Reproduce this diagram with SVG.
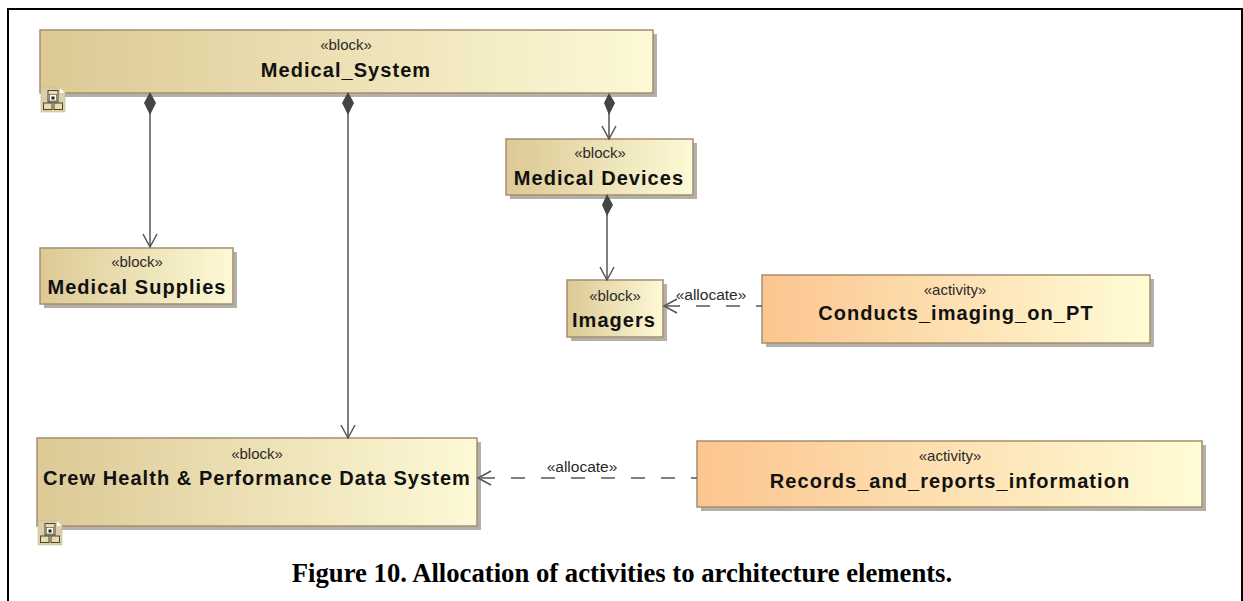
<svg xmlns="http://www.w3.org/2000/svg" width="1243" height="601" viewBox="0 0 1243 601">
<style>
.box{stroke:#a58e6e;stroke-width:1.5}
.sh{fill:#b3b0aa}
.st{font-family:"Liberation Sans",Arial,sans-serif;font-size:15px;fill:#2a2a2a;text-anchor:middle}
.nm{font-family:"Liberation Sans",Arial,sans-serif;font-size:20px;font-weight:bold;fill:#111;text-anchor:middle;letter-spacing:1.05px}
.ln{fill:none;stroke:#555;stroke-width:1.5}
.ds{stroke-dasharray:14 16;stroke-dashoffset:8}
.dm{fill:#444;stroke:none}
.ic{fill:#e8dcae;stroke:#4a4232;stroke-width:1}
.ig{fill:#dcd0ac;stroke:#c4b890;stroke-width:.6}
</style>
<defs>
<linearGradient id="b"><stop offset="0" stop-color="#dcc995"/><stop offset="1" stop-color="#fdf9d6"/></linearGradient>
<linearGradient id="a"><stop offset="0" stop-color="#fcc58f"/><stop offset="1" stop-color="#fffcd6"/></linearGradient>
<marker id="o" markerUnits="userSpaceOnUse" markerWidth="18" markerHeight="18" refX="14" refY="8" orient="auto"><path d="M1 1L14 8L1 15" fill="none" stroke="#555" stroke-width="1.5"/></marker>
<g id="icon"><path d="M0 0H19L24 5V24H0Z" class="ig"/><path d="M19 0L24 5H19Z" fill="#fff"/><rect x="7" y="2.500" width="10" height="11.500" fill="#e8dcae" stroke="#4a4232" stroke-width="1"/><rect x="8.500" y="6.500" width="7" height="6.500" fill="#fff" stroke="#4a4232" stroke-width=".6"/><rect x="10.500" y="8.500" width="3" height="3" fill="#222"/><rect x="2.500" y="15" width="8.500" height="6.500" class="ic"/><rect x="13" y="15" width="8.500" height="6.500" class="ic"/></g>
</defs>
<rect x="0" y="0" width="1243" height="601" fill="#fff"/>
<path id="frame" d="M8 601V9H1242V601" fill="none" stroke="#000" stroke-width="2"/>
<g id="medical-system">
<rect class="sh" x="44" y="34" width="613" height="63"/>
<rect class="box" x="40" y="30" width="613" height="63" fill="url(#b)"/>
<text class="st" x="346" y="50">«block»</text><text class="nm" x="346" y="77">Medical_System</text>
<use href="#icon" x="41" y="88"/>
</g>
<g id="medical-devices">
<rect class="sh" x="510" y="143" width="187" height="56"/>
<rect class="box" x="506" y="139" width="187" height="56" fill="url(#b)"/>
<text class="st" x="600" y="158">«block»</text><text class="nm" x="599" y="185">Medical Devices</text>
</g>
<g id="imagers">
<rect class="sh" x="571" y="284" width="96" height="57"/>
<rect class="box" x="567" y="280" width="96" height="57" fill="url(#b)"/>
<text class="st" x="615" y="301">«block»</text><text class="nm" x="614" y="327">Imagers</text>
</g>
<g id="medical-supplies">
<rect class="sh" x="44" y="252" width="193" height="56"/>
<rect class="box" x="40" y="248" width="193" height="56" fill="url(#b)"/>
<text class="st" x="137" y="267">«block»</text><text class="nm" x="137" y="294">Medical Supplies</text>
</g>
<g id="crew-health">
<rect class="sh" x="41" y="442" width="440" height="88"/>
<rect class="box" x="37" y="438" width="440" height="88" fill="url(#b)"/>
<text class="st" x="257" y="459">«block»</text><text class="nm" x="257" y="485">Crew Health &amp; Performance Data System</text>
<use href="#icon" x="38" y="521"/>
</g>
<g id="conducts-imaging">
<rect class="sh" x="766" y="279" width="388" height="68"/>
<rect class="box" x="762" y="275" width="388" height="68" fill="url(#a)"/>
<text class="st" x="955" y="295">«activity»</text><text class="nm" x="956" y="320">Conducts_imaging_on_PT</text>
</g>
<g id="records-reports">
<rect class="sh" x="701" y="445" width="505" height="66"/>
<rect class="box" x="697" y="441" width="505" height="66" fill="url(#a)"/>
<text class="st" x="950" y="461">«activity»</text><text class="nm" x="950" y="488">Records_and_reports_information</text>
</g>
<g id="connectors">
<path class="ln" d="M150 112V247" marker-end="url(#o)"/>
<path class="ln" d="M348 112V438" marker-end="url(#o)"/>
<path class="ln" d="M609 112V139" marker-end="url(#o)"/>
<path class="ln" d="M607 214V280" marker-end="url(#o)"/>
<path class="ln ds" d="M762 306H664" marker-end="url(#o)"/>
<path class="ln ds" d="M697 478H478" marker-end="url(#o)"/>
<path class="dm" d="M150 92L156 103L150 115L144 103Z"/>
<path class="dm" d="M348 92L354 103L348 115L342 103Z"/>
<path class="dm" d="M609 93L615 103L609 115L604 103Z"/>
<path class="dm" d="M607 194L613 205L607 216L602 205Z"/>
<text class="st" x="711" y="300" style="font-size:15.500px">«allocate»</text>
<text class="st" x="582" y="472" style="font-size:15.500px">«allocate»</text>
</g>
<text id="caption" x="622" y="582" font-family="Liberation Serif,Times New Roman,serif" font-size="26.700" font-weight="bold" text-anchor="middle" fill="#000">Figure 10. Allocation of activities to architecture elements.</text>
</svg>
